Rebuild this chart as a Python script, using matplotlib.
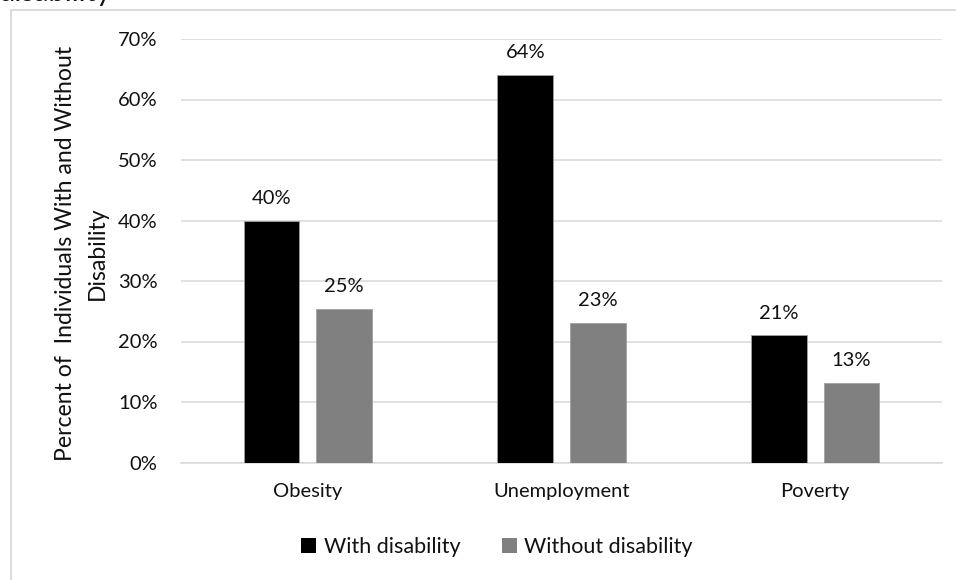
import matplotlib
matplotlib.use("Agg")
import matplotlib.pyplot as plt
from matplotlib.patches import Rectangle, Patch
import numpy as np

categories = ["Obesity", "Unemployment", "Poverty"]
with_disability = [40.0, 64.0, 21.0]
without_disability = [25.4, 23.0, 13.1]
series_names = ["With disability", "Without disability"]
yticks = [0, 10, 20, 30, 40, 50, 60, 70]

plt.rcParams['font.family'] = ['Lato', 'DejaVu Sans']
TXT = '#111111'
GRID = '#d9d9d9'
FS = 14.5

fig = plt.figure(figsize=(9.56, 5.8), dpi=100)
ax = fig.add_axes([181/956, (580-462.5)/580, (942-181)/956, (462.5-39)/580])

x = np.arange(len(categories))
bw = 0.22
off = 0.143
b1 = ax.bar(x - off, with_disability, bw, color='#000000', edgecolor='#a0a0a0', linewidth=0.6, zorder=3)
b2 = ax.bar(x + off, without_disability, bw, color='#808080', edgecolor='#a0a0a0', linewidth=0.6, zorder=3)

for bars, vals in ((b1, with_disability), (b2, without_disability)):
    for r, v in zip(bars, vals):
        ax.annotate(f"{v:.0f}%", (r.get_x() + r.get_width()/2, v), xytext=(0, 10),
                    textcoords='offset points', ha='center', va='bottom', fontsize=FS, color=TXT)

ax.set_xlim(-0.5, len(categories) - 0.5)
ax.set_ylim(0, 70)
ax.set_yticks(yticks)
ax.set_yticklabels([f"{t}%" for t in yticks])
ax.set_xticks(x)
ax.set_xticklabels(categories)
ax.tick_params(axis='both', length=0, labelsize=FS, colors=TXT)
ax.tick_params(axis='y', pad=17)
ax.tick_params(axis='x', pad=15)
ax.grid(axis='y', color=GRID, linewidth=1.1, zorder=0)
for s in ['top', 'right', 'left']:
    ax.spines[s].set_visible(False)
ax.spines['bottom'].set_color(GRID)
ax.spines['bottom'].set_linewidth(1.1)

fig.text(66/956, 1 - 253/580, "Percent of  Individuals With and Without", rotation=90,
         ha='center', va='center', fontsize=16.6, color=TXT)
fig.text(97/956, 1 - 253/580, "Disability", rotation=90,
         ha='center', va='center', fontsize=16.6, color=TXT)

# cropped title remnant (only its bottom edge is visible in the reference)
fig.text(-1/956, 1 - 1.2/580, "disability", ha='left', va='baseline', fontsize=21, color=TXT)

# chart area border
fig.patches.append(Rectangle((11/956, -0.1), 1.2, 1 - 9.6/580 + 0.1, transform=fig.transFigure,
                             fill=False, edgecolor=GRID, linewidth=1.3, clip_on=False))

handles = [Patch(facecolor='#000000', edgecolor='none'), Patch(facecolor='#808080', edgecolor='none')]
fig.legend(handles, series_names, loc='center', bbox_to_anchor=(497/956, 1 - 547/580),
           ncol=2, frameon=False, fontsize=15.5, handlelength=0.7, handleheight=0.7,
           handletextpad=0.35, columnspacing=1.9, labelcolor=TXT)

fig.savefig("out.png", dpi=100)
